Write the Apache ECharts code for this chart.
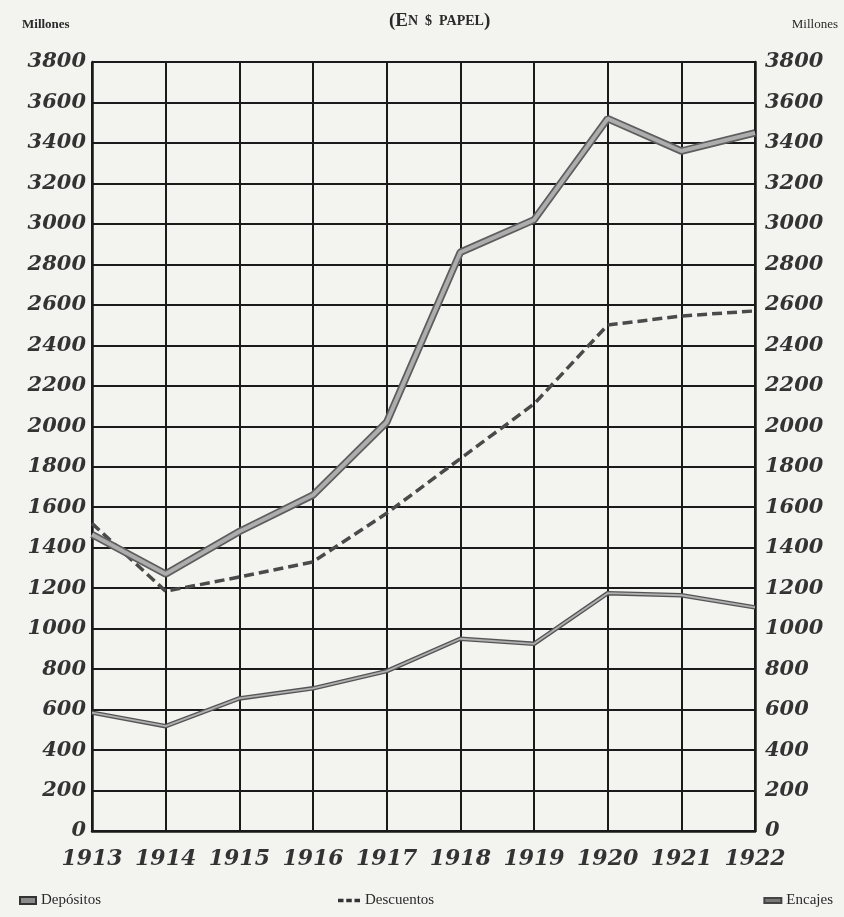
<!DOCTYPE html>
<html>
<head>
<meta charset="utf-8">
<script src="https://cdn.jsdelivr.net/npm/echarts@6/dist/echarts.min.js"></script>
<style>
  html, body { margin: 0; padding: 0; background: #f3f4f0; }
  #chart { width: 844px; height: 917px; }
</style>
</head>
<body>
<div id="chart"></div>
<script>
// years on the x axis
const years = ['1913', '1914', '1915', '1916', '1917', '1918', '1919', '1920', '1921', '1922']
// millones de $ papel
const depositos = [1465, 1270, 1480, 1660, 2020, 2860, 3020, 3520, 3360, 3450]
const descuentos = [1520, 1185, 1255, 1330, 1570, 1840, 2110, 2500, 2545, 2570]
const encajes = [585, 518, 655, 705, 790, 950, 925, 1175, 1165, 1105]

const numFont = {
  fontFamily: 'DejaVu Serif',
  fontStyle: 'italic',
  fontWeight: 'bold',
  color: '#333'
}

const chart = echarts.init(document.getElementById('chart'))

function valueAxis(position) {
  return {
    type: 'value',
    position: position,
    min: 0,
    max: 3800,
    interval: 200,
    axisLine: { show: true, lineStyle: { color: '#1a1a1a', width: 2.5 } },
    axisTick: { show: false },
    splitLine: { show: position === 'left', lineStyle: { color: '#1a1a1a', width: 2 } },
    axisLabel: Object.assign({
      fontSize: 21,
      margin: position === 'left' ? 6 : 10,
      formatter: v => String(v)
    }, numFont)
  }
}

chart.setOption({
  backgroundColor: '#f3f4f0',
  animation: false,
  title: {
    text: '{a|(E}{b|N  $  PAPEL}{a|)}',
    left: 384,
    top: 7,
    textStyle: {
      rich: {
        a: { fontFamily: 'Liberation Serif', fontSize: 19, color: '#2a2a2a' },
        b: { fontFamily: 'Liberation Serif', fontSize: 14, color: '#2a2a2a' }
      }
    }
  },
  graphic: [
    { type: 'text', left: 22, top: 18, style: { text: 'Millones', font: 'bold 13px "Liberation Serif"', fill: '#2a2a2a' } },
    { type: 'text', right: 6, top: 18, style: { text: 'Millones', font: '13px "Liberation Serif"', fill: '#2a2a2a' } }
  ],
  legend: [
    {
      data: [{ name: 'Depósitos', icon: 'rect' }],
      left: 14, bottom: 4,
      itemWidth: 16, itemHeight: 7,
      textStyle: { fontFamily: 'Liberation Serif', fontSize: 15, color: '#2a2a2a' }
    },
    {
      data: [{ name: 'Descuentos', icon: 'path://M0,0h6v4h-6z M9,0h6v4h-6z M18,0h6v4h-6z' }],
      left: 333, bottom: 4,
      itemWidth: 22, itemHeight: 4,
      textStyle: { fontFamily: 'Liberation Serif', fontSize: 15, color: '#2a2a2a' }
    },
    {
      data: [{ name: 'Encajes', icon: 'rect' }],
      right: 6, bottom: 4,
      itemWidth: 17, itemHeight: 5,
      textStyle: { fontFamily: 'Liberation Serif', fontSize: 15, color: '#2a2a2a' }
    }
  ],
  grid: { left: 92, right: 89, top: 62, bottom: 86 },
  xAxis: {
    type: 'category',
    data: years,
    boundaryGap: false,
    axisLine: { lineStyle: { color: '#1a1a1a', width: 2.5 } },
    axisTick: { show: false },
    splitLine: { show: true, lineStyle: { color: '#1a1a1a', width: 2 } },
    axisLabel: Object.assign({ fontSize: 22, margin: 17, interval: 0 }, numFont)
  },
  yAxis: [valueAxis('left'), valueAxis('right')],
  series: [
    {
      name: 'Encajes',
      type: 'line',
      data: encajes,
      symbol: 'none',
      itemStyle: { color: '#777', borderColor: '#444', borderWidth: 1 },
      lineStyle: { color: '#555', width: 4.5 }
    },
    {
      name: 'encajes-fill',
      type: 'line',
      data: encajes,
      symbol: 'none',
      silent: true,
      lineStyle: { color: '#b0b0b0', width: 1.8 }
    },
    {
      name: 'Descuentos',
      type: 'line',
      data: descuentos,
      symbol: 'none',
      itemStyle: { color: '#333' },
      lineStyle: { color: '#4a4a4a', width: 3.5, type: [10, 5] }
    },
    {
      name: 'Depósitos',
      type: 'line',
      data: depositos,
      symbol: 'none',
      itemStyle: { color: '#8a8a8a', borderColor: '#333', borderWidth: 1 },
      lineStyle: { color: '#5e5e5e', width: 7.5 }
    },
    {
      name: 'depositos-fill',
      type: 'line',
      data: depositos,
      symbol: 'none',
      silent: true,
      lineStyle: { color: '#adadad', width: 4 }
    }
  ]
})
</script>
</body>
</html>
